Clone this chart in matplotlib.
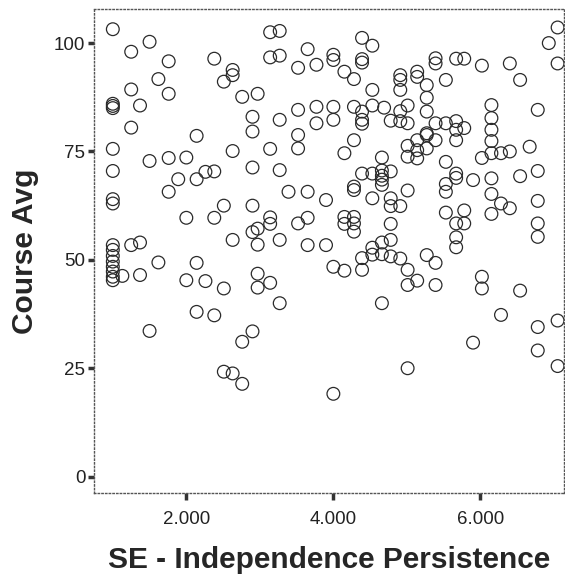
import matplotlib
matplotlib.use("Agg")
import matplotlib.pyplot as plt

# SE - Independence Persistence score levels and the course averages observed at each
se_levels = [1.00, 1.13, 1.25, 1.37, 1.50, 1.62, 1.76, 1.89, 2.00, 2.14,
             2.26, 2.38, 2.51, 2.63, 2.76, 2.90, 2.97, 3.14, 3.27, 3.39,
             3.52, 3.65, 3.77, 3.90, 4.00, 4.15, 4.28, 4.39, 4.53, 4.66,
             4.69, 4.78, 4.91, 5.01, 5.14, 5.27, 5.39, 5.53, 5.67, 5.78,
             5.90, 6.02, 6.15, 6.28, 6.40, 6.54, 6.67, 6.78, 6.93, 7.05]

course_avg_by_level = [
    [103.2, 85.0, 85.5, 86.0, 75.6, 70.5, 64.0, 63.0, 53.4, 52.3, 50.9, 49.6, 48.4, 47.3, 46.1, 45.3],
    [46.3],
    [98.0, 89.3, 80.5, 53.4],
    [85.6, 54.0, 46.5],
    [100.3, 72.8, 33.6],
    [91.7, 49.4],
    [95.8, 88.3, 73.5, 65.7],
    [68.6],
    [73.6, 59.7, 45.3],
    [78.6, 68.6, 49.3, 38.0],
    [70.3, 45.1],
    [96.4, 70.4, 59.7, 37.2],
    [91.1, 62.5, 43.4, 24.2],
    [93.8, 92.6, 75.1, 54.6, 23.8],
    [87.6, 31.1, 21.4],
    [83.0, 79.6, 71.3, 62.5, 56.4, 33.5],
    [88.3, 57.2, 53.5, 46.8, 43.6],
    [102.5, 96.7, 75.6, 59.8, 58.3, 44.7],
    [102.8, 97.1, 82.3, 70.7, 54.6, 40.0],
    [65.7],
    [94.3, 84.6, 78.8, 75.7, 58.4],
    [98.6, 65.7, 59.7, 53.4],
    [95.0, 85.3, 81.5],
    [63.8, 53.4],
    [97.3, 96.1, 85.3, 82.3, 48.4, 19.1],
    [93.4, 74.6, 59.9, 58.3, 47.5],
    [91.7, 85.3, 77.6, 66.9, 66.1, 59.9, 58.4, 56.5],
    [101.2, 96.3, 95.5, 84.2, 82.3, 81.4, 69.9, 50.4, 47.7],
    [99.4, 89.2, 85.6, 69.9, 64.2, 52.8, 51.2],
    [73.6, 70.6, 69.4, 68.5, 67.3, 54.0, 51.3, 40.0],
    [85.1],
    [82.1, 70.4, 64.2, 62.4, 58.3, 54.6, 50.8],
    [92.6, 91.5, 89.2, 84.3, 82.0, 62.4, 50.3],
    [85.6, 81.5, 76.3, 73.8, 66.0, 47.7, 44.2, 25.0],
    [93.4, 92.2, 77.6, 75.3, 73.4, 45.2],
    [90.3, 87.4, 84.2, 79.2, 78.8, 75.7, 51.1],
    [96.5, 95.3, 81.5, 77.6, 49.3, 44.2],
    [91.5, 81.5, 72.6, 67.5, 65.7, 60.9],
    [96.4, 82.0, 80.0, 77.6, 69.9, 68.9, 58.4, 55.2, 52.9],
    [96.4, 80.4, 61.4, 58.4],
    [68.4, 30.9],
    [94.8, 73.5, 46.1, 43.4],
    [85.7, 82.7, 80.0, 77.4, 74.6, 68.8, 65.2, 60.6],
    [74.6, 63.0, 37.3],
    [95.3, 75.0, 61.9],
    [91.5, 69.3, 42.9],
    [76.1],
    [84.6, 70.5, 63.6, 58.4, 55.3, 34.5, 29.1],
    [100.0],
    [103.6, 95.3, 36.0, 25.5],
]

x_ticks = [2, 4, 6]
x_tick_labels = ["2.000", "4.000", "6.000"]
y_ticks = [0, 25, 50, 75, 100]

se_scores = []
course_avg = []
for level, values in zip(se_levels, course_avg_by_level):
    se_scores.extend([level] * len(values))
    course_avg.extend(values)

plt.rcParams['font.family'] = ['Liberation Sans', 'DejaVu Sans']

fig = plt.figure(figsize=(5.65, 5.87), dpi=100)
ax = fig.add_axes([93.7 / 565, 1 - 493 / 587, (564 - 93.7) / 565, (493 - 9.4) / 587])

ax.scatter(se_scores, course_avg, s=84, facecolors='none',
           edgecolors='#2a2a2a', linewidths=0.9)

ax.set_xlim(0.74, 7.137)
ax.set_ylim(-3.78, 107.77)
ax.set_xticks(x_ticks)
ax.set_xticklabels(x_tick_labels)
ax.set_yticks(y_ticks)

for side in ['left', 'right', 'top', 'bottom']:
    ax.spines[side].set_linestyle(':')
    ax.spines[side].set_color('#555555')
    ax.spines[side].set_linewidth(1.0)

ax.tick_params(axis='x', direction='out', length=5, width=2.5, color='#333333',
               pad=8, labelsize=13.5, labelcolor='#222222')
ax.tick_params(axis='y', direction='out', length=4, width=2.5, color='#333333',
               pad=2, labelsize=13.5, labelcolor='#222222')

ax.set_xlabel('SE - Independence Persistence', fontsize=21.5, fontweight='bold',
              color='#262626', labelpad=13)
ax.set_ylabel('Course Avg', fontsize=21.5, fontweight='bold', color='#262626',
              labelpad=11)

fig.savefig('out.png', dpi=100)
